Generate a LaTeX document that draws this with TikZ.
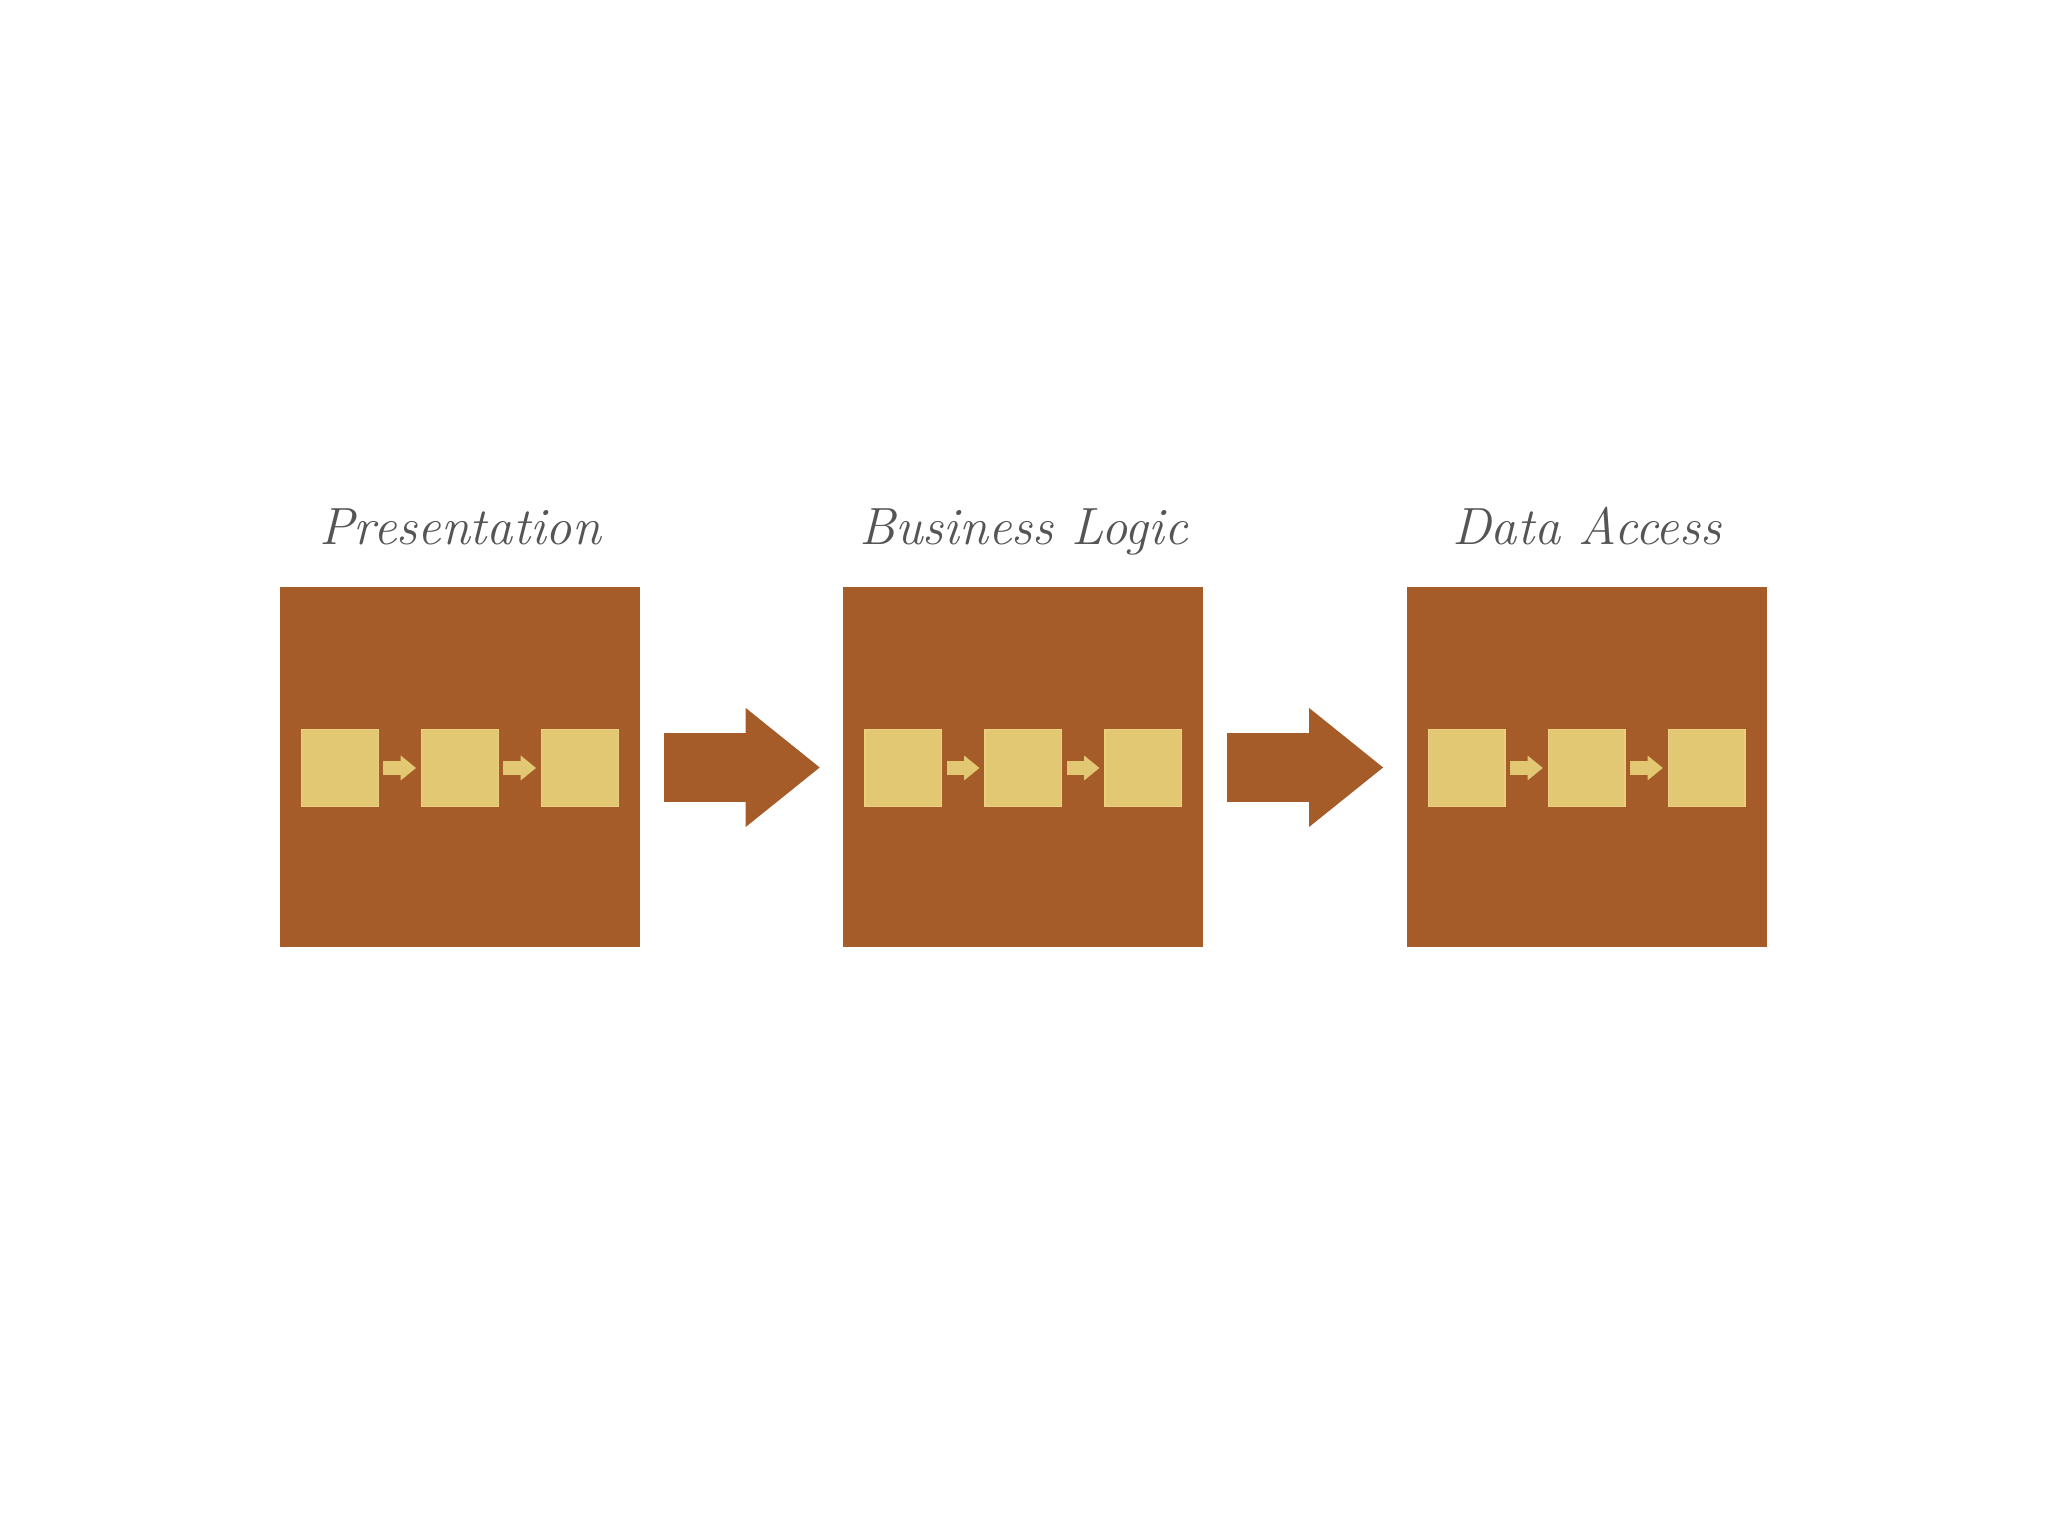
\documentclass[tikz,border=0pt]{standalone}
\usetikzlibrary{arrows.meta}
\definecolor{layerbrown}{HTML}{A65C28}
\definecolor{stepgold}{HTML}{E3C873}
\definecolor{stepedge}{HTML}{EBCF80}
\definecolor{labelgray}{HTML}{555555}
\tikzstyle{layer}=[fill=layerbrown,inner sep=0,outer sep=0,minimum size=3.6cm]
\tikzstyle{stepbox}=[fill=stepgold,draw=stepedge,line width=0.4pt,inner sep=0,outer sep=0,minimum size=0.766cm]
\tikzstyle{steparrow}=[stepgold,line width=0.14cm,-{Triangle[length=0.153cm,width=0.25cm,line width=0pt]},shorten <=0.05cm,shorten >=0.057cm]
\tikzstyle{flowarrow}=[layerbrown,line width=0.694cm,-{Triangle[length=0.74cm,width=1.19cm,line width=0pt]},shorten <=0.235cm,shorten >=0.237cm]
\tikzstyle{layertitle}=[labelgray,anchor=base,inner sep=0,font=\fontsize{14.9}{18}\selectfont\itshape]

\begin{document}
\begin{tikzpicture}
		\useasboundingbox[fill=white] (0,0) rectangle (20.48,15.36);
		% layers
		\node[layer] (pres) at (4.60,7.685) {};
		\node[layer] (biz) at (10.234,7.685) {};
		\node[layer] (data) at (15.868,7.685) {};
		\node[layertitle] (presT) at (4.60,9.91) {Presentation};
		\node[layertitle] (bizT) at (10.234,9.91) {Business Logic};
		\node[layertitle] (dataT) at (15.868,9.91) {Data Access};
		% steps inside each layer
		\node[stepbox] (p1) at (3.40,7.68) {};
		\node[stepbox] (p2) at (4.60,7.68) {};
		\node[stepbox] (p3) at (5.80,7.68) {};
		\node[stepbox] (b1) at (9.034,7.68) {};
		\node[stepbox] (b2) at (10.234,7.68) {};
		\node[stepbox] (b3) at (11.434,7.68) {};
		\node[stepbox] (d1) at (14.668,7.68) {};
		\node[stepbox] (d2) at (15.868,7.68) {};
		\node[stepbox] (d3) at (17.068,7.68) {};
		\draw[steparrow] (p1.east) -- (p2.west);
		\draw[steparrow] (p2.east) -- (p3.west);
		\draw[steparrow] (b1.east) -- (b2.west);
		\draw[steparrow] (b2.east) -- (b3.west);
		\draw[steparrow] (d1.east) -- (d2.west);
		\draw[steparrow] (d2.east) -- (d3.west);
		% flow between layers
		\draw[flowarrow] (pres.east) -- (biz.west);
		\draw[flowarrow] (biz.east) -- (data.west);
\end{tikzpicture}
\end{document}
